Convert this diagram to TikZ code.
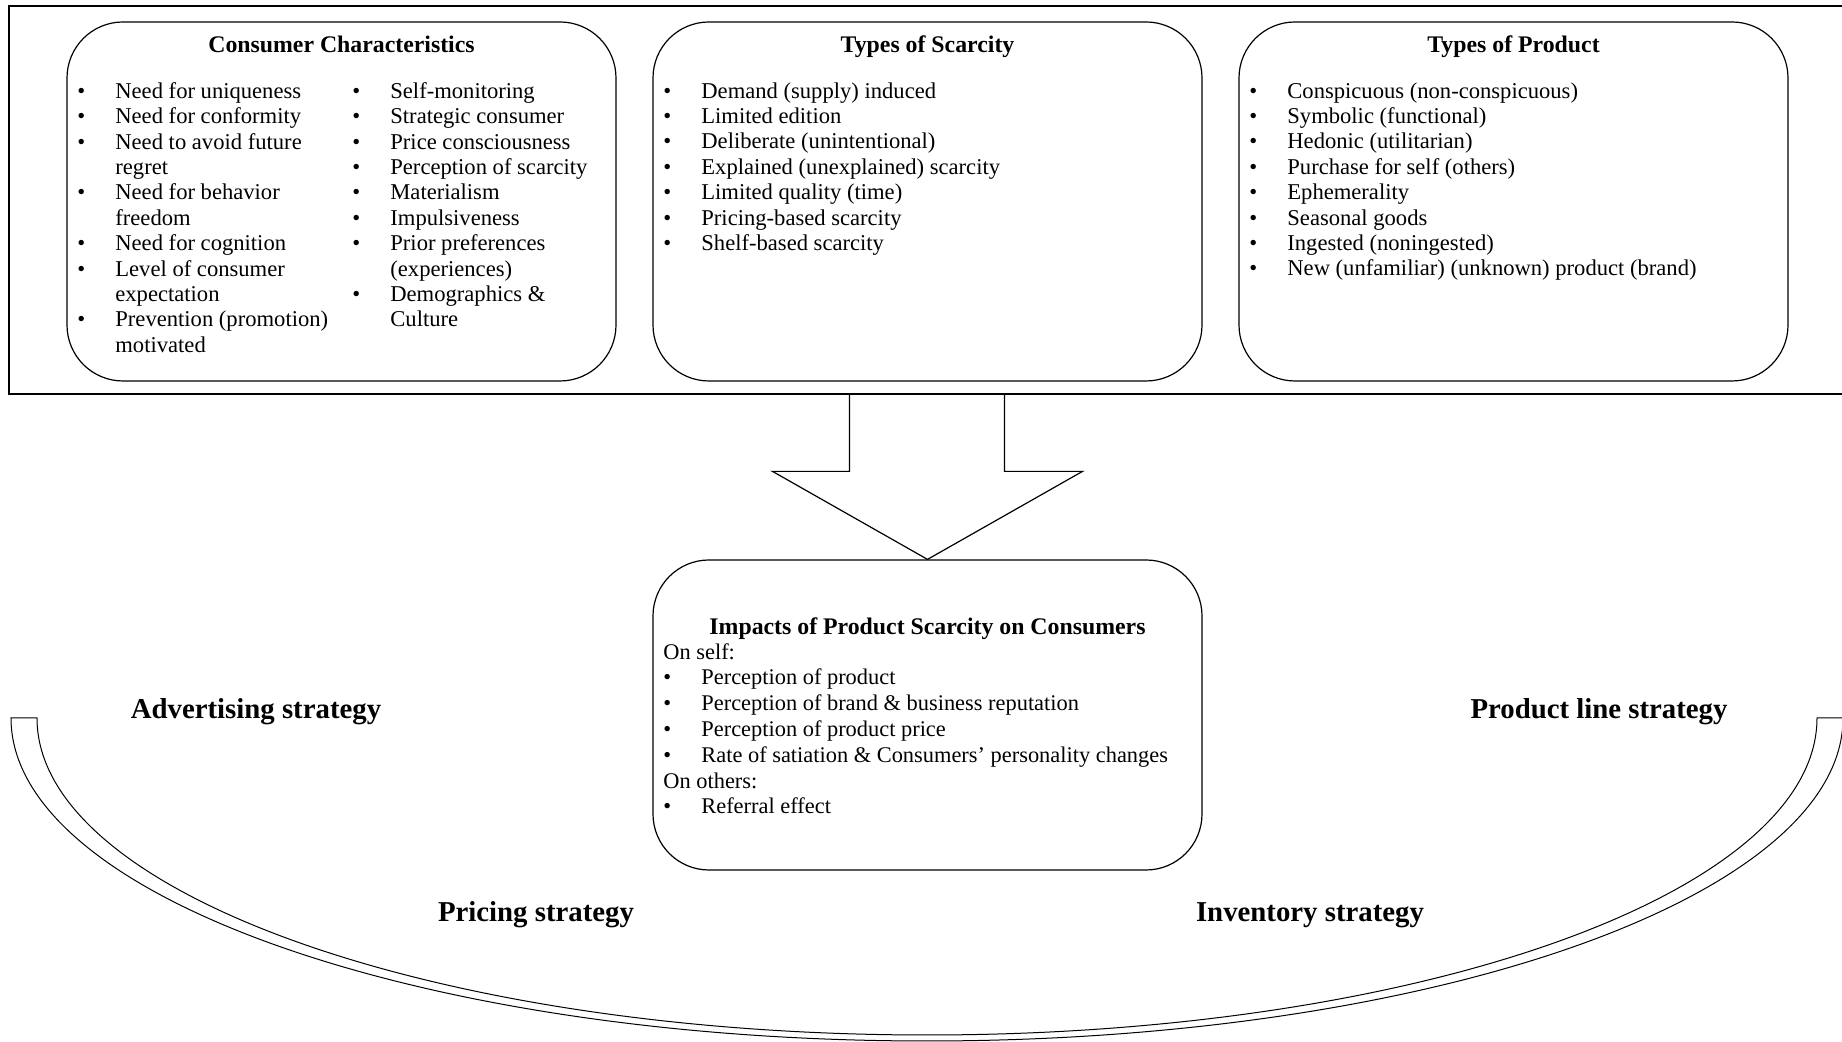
\documentclass[tikz,border=0pt]{standalone}
\usepackage{fontspec}
\setmainfont{Liberation Serif}
\usepackage{tikz}
\newcommand{\bul}{\makebox[19pt][l]{\textbullet}}
\newcommand{\gap}{\hspace*{19pt}}
\tikzset{
	panel/.style={draw,line width=0.6pt,rounded corners=28pt,minimum width=274.5pt,minimum height=179.5pt},
	ttl/.style={font=\bfseries\fontsize{11.9}{12.7}\selectfont,text height=8pt,text depth=2pt},
	lst/.style={anchor=north west,align=left,inner sep=0pt,font=\fontsize{11.3}{12.7}\selectfont},
	strat/.style={font=\bfseries\fontsize{14.4}{16}\selectfont}
}

\begin{document}
\begin{tikzpicture}[x=0.5pt,y=0.5pt]
		\useasboundingbox (0,0) rectangle (1842,1042);
		
		\draw[line width=0.6pt] (1842,1036) -- (9,1036) -- (9,648) -- (1842,648);
		
		\node[panel] (cons) at (341.5,840.5) {};
		\node[panel] (scar) at (927.5,840.5) {};
		\node[panel] (prod) at (1513.5,840.5) {};
		\node[panel,minimum height=155pt] (imp) at (927.5,327) {};
		
		\node[ttl] (consT) at ([yshift=-12.5pt]cons.north) {Consumer Characteristics};
		\node[ttl] (scarT) at ([yshift=-12.5pt]scar.north) {Types of Scarcity};
		\node[ttl] (prodT) at ([yshift=-12.5pt]prod.north) {Types of Product};
		\node[ttl] (impT) at (927.5,413) {Impacts of Product Scarcity on Consumers};
		
		\node[lst] (consA) at (77,960) {\bul Need for uniqueness\\ \bul Need for conformity\\ \bul Need to avoid future\\ \gap regret\\ \bul Need for behavior\\ \gap freedom\\ \bul Need for cognition\\ \bul Level of consumer\\ \gap expectation\\ \bul Prevention (promotion)\\ \gap motivated};
		\node[lst] (consB) at (352,960) {\bul Self-monitoring\\ \bul Strategic consumer\\ \bul Price consciousness\\ \bul Perception of scarcity\\ \bul Materialism\\ \bul Impulsiveness\\ \bul Prior preferences\\ \gap (experiences)\\ \bul Demographics \&\\ \gap Culture};
		\node[lst] (scarA) at (663,960) {\bul Demand (supply) induced\\ \bul Limited edition\\ \bul Deliberate (unintentional)\\ \bul Explained (unexplained) scarcity\\ \bul Limited quality (time)\\ \bul Pricing-based scarcity\\ \bul Shelf-based scarcity};
		\node[lst] (prodA) at (1249,960) {\bul Conspicuous (non-conspicuous)\\ \bul Symbolic (functional)\\ \bul Hedonic (utilitarian)\\ \bul Purchase for self (others)\\ \bul Ephemerality\\ \bul Seasonal goods\\ \bul Ingested (noningested)\\ \bul New (unfamiliar) (unknown) product (brand)};
		\node[lst,font=\fontsize{11.2}{12.9}\selectfont] (impA) at (663,399) {On self:\\ \bul Perception of product\\ \bul Perception of brand \& business reputation\\ \bul Perception of product price\\ \bul Rate of satiation \& Consumers’ personality changes\\ On others:\\ \bul Referral effect};
		
		\draw[line width=0.6pt] (imp.north) -- ++(-155,88) -- ++(77,0) -- ++(0,77) -- ++(155,0) -- ++(0,-77) -- ++(78,0) -- cycle;
		
		\draw[line width=0.5pt] (11,324) arc[start angle=180,end angle=360,x radius=916,y radius=323] -- (1817,324) arc[start angle=0,end angle=-180,x radius=890,y radius=317] -- cycle;
		
		\node[strat] (adv) at (256,330) {Advertising strategy};
		\node[strat] (pl) at (1599,330) {Product line strategy};
		\node[strat] (pri) at (536,127) {Pricing strategy};
		\node[strat] (inv) at (1310,127) {Inventory strategy};
		\end{tikzpicture}
\end{document}
